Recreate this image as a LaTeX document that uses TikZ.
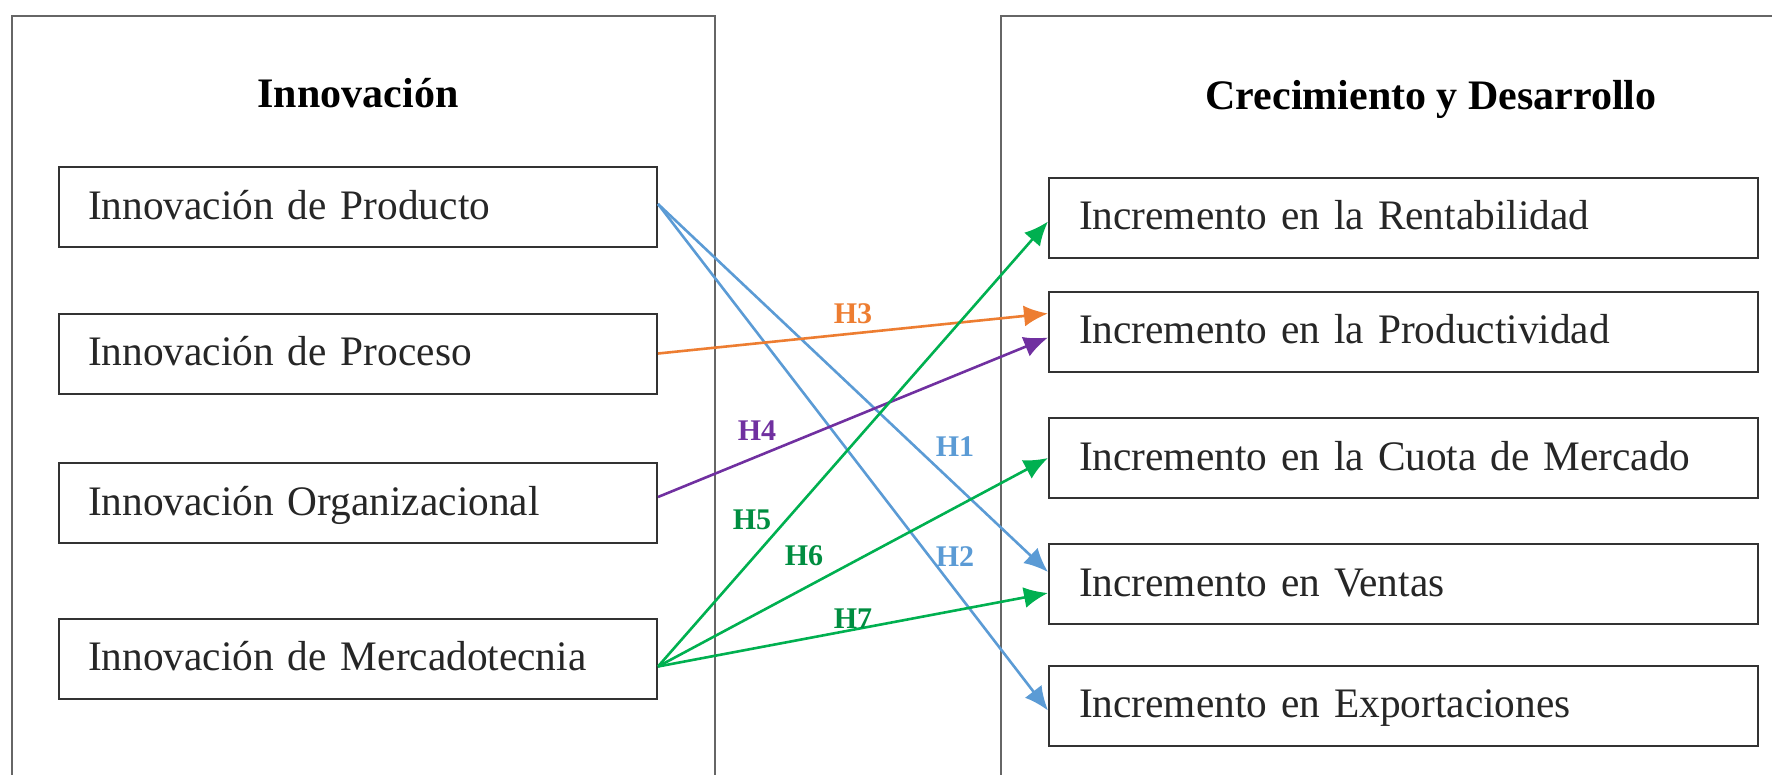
\documentclass[tikz,border=0pt]{standalone}
\usepackage{fontspec}
\setmainfont{Liberation Serif}
\newfontfamily\boxfont{Liberation Serif}[FakeStretch=0.984]
\usetikzlibrary{arrows.meta}
\definecolor{cblue}{HTML}{5B9BD5}
\definecolor{corange}{HTML}{ED7D31}
\definecolor{cpurple}{HTML}{7030A0}
\definecolor{cgreen}{HTML}{00B050}
\definecolor{frame}{HTML}{666666}
\definecolor{boxline}{HTML}{333333}
\tikzset{
  leftbox/.style={draw=boxline, line width=2pt, minimum width=598pt, minimum height=80pt,
    inner xsep=29pt, text width=540pt, align=left, text height=31pt, text depth=7pt,
    font=\boxfont\fontsize{42}{50}\selectfont, text=black!85},
  rightbox/.style={draw=boxline, line width=2pt, minimum width=709pt, minimum height=80pt,
    inner xsep=30pt, text width=649pt, align=left, text height=31pt, text depth=7pt,
    font=\boxfont\fontsize{42}{50}\selectfont, text=black!85},
  titletext/.style={font=\fontsize{42}{50}\selectfont\bfseries},
  hlabel/.style={font=\fontsize{30}{36}\selectfont\bfseries},
  conn/.style={line width=2.6pt, -{Latex[length=24pt,width=21pt]}},
}
\begin{document}
\begin{tikzpicture}[x=1pt,y=-1pt]
\useasboundingbox (0,0) rectangle (1772,774);
% frames
\draw[frame, line width=2pt] (12,790) -- (12,16) -- (715,16) -- (715,790);
\draw[frame, line width=2pt] (1001,790) -- (1001,16) -- (1790,16);
% titles
\node[titletext] (tl) at (358,93) {Innovación};
\node[titletext] (tr) at (1431,99) {Crecimiento y Desarrollo};
% left boxes
\node[leftbox] (L1) at (358,207) {Innovación de Producto};
\node[leftbox] (L2) at (358,353.5) {Innovación de Proceso};
\node[leftbox] (L3) at (358,503) {Innovación Organizacional};
\node[leftbox] (L4) at (358,658.5) {Innovación de Mercadotecnia};
% right boxes
\node[rightbox] (R1) at (1403.5,217.5) {Incremento en la Rentabilidad};
\node[rightbox] (R2) at (1403.5,331.5) {Incremento en la Productividad};
\node[rightbox] (R3) at (1403.5,458) {Incremento en la Cuota de Mercado};
\node[rightbox] (R4) at (1403.5,584) {Incremento en Ventas};
\node[rightbox] (R5) at (1403.5,705.5) {Incremento en Exportaciones};
% connectors
\draw[conn, cblue] ([yshift=3pt]L1.east) -- ([yshift=12pt]R4.west);
\draw[conn, cblue] ([yshift=3pt]L1.east) -- ([yshift=-5pt]R5.west);
\draw[conn, corange] (L2.east) -- ([yshift=18pt]R2.west);
\draw[conn, cpurple] ([yshift=6pt]L3.east) -- ([yshift=-6pt]R2.west);
\draw[conn, cgreen] ([yshift=-8pt]L4.east) -- ([yshift=-4pt]R1.west);
\draw[conn, cgreen] ([yshift=-8pt]L4.east) -- (R3.west);
\draw[conn, cgreen] ([yshift=-8pt]L4.east) -- ([yshift=-9pt]R4.west);
% labels
\node[hlabel, text=cblue] (h1) at (955,447) {H1};
\node[hlabel, text=cblue] (h2) at (955,557) {H2};
\node[hlabel, text=corange] (h3) at (853,314) {H3};
\node[hlabel, text=cpurple] (h4) at (757,431) {H4};
\node[hlabel, text=cgreen!80!black] (h5) at (752,520) {H5};
\node[hlabel, text=cgreen!80!black] (h6) at (804,556) {H6};
\node[hlabel, text=cgreen!80!black] (h7) at (853,619) {H7};
\end{tikzpicture}
\end{document}
